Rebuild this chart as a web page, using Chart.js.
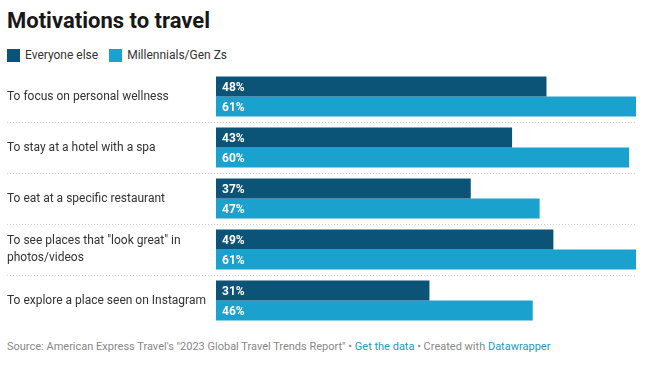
<!DOCTYPE html>
<html>
<head>
<meta charset="utf-8">
<script src="https://cdn.jsdelivr.net/npm/chart.js@4/dist/chart.umd.min.js"></script>
<style>
  body { margin: 0; background: #fff; font-family: Roboto, sans-serif; }
  #wrap { position: relative; width: 661px; height: 367px; }
  h1 { position: absolute; left: 7px; top: 8px; margin: 0; font-size: 22px; font-weight: 700; color: #181818; }
  .legend { position: absolute; top: 48px; left: 7px; font-size: 12px; color: #333; display: flex; }
  .legend span { display: flex; align-items: center; margin-right: 11px; }
  .legend i { display: inline-block; width: 13px; height: 13px; margin-right: 5px; }
  #box { position: absolute; left: 0; top: 70px; width: 661px; height: 258px; }
  .foot { position: absolute; left: 7px; top: 340px; font-size: 11px; color: #888; }
  .foot a { color: #1d9ac2; text-decoration: none; }
</style>
</head>
<body>
<div id="wrap">
  <h1>Motivations to travel</h1>
  <div class="legend">
    <span><i style="background:#0c5378"></i>Everyone else</span>
    <span><i style="background:#1aa1cd"></i>Millennials/Gen Zs</span>
  </div>
  <div id="box"><canvas id="chart"></canvas></div>
  <div class="foot">Source: American Express Travel's "2023 Global Travel Trends Report" • <a>Get the data</a> • Created with <a>Datawrapper</a></div>
</div>
<script>
// 카테고리와 값
const categories = [
  'To focus on personal wellness',
  'To stay at a hotel with a spa',
  'To eat at a specific restaurant',
  ['To see places that "look great" in', 'photos/videos'],
  'To explore a place seen on Instagram'
];
const everyoneElse = [48, 43, 37, 49, 31];
const millennials = [61, 60, 47, 61, 46];

// 막대 안쪽 라벨 + 점선 구분선
const extras = {
  id: 'extras',
  afterDatasetsDraw(chart) {
    const ctx = chart.ctx;
    const y = chart.scales.y;
    const area = chart.chartArea;
    ctx.save();
    ctx.strokeStyle = '#d2d2d2';
    ctx.lineWidth = 1;
    ctx.setLineDash([1, 2]);
    for (let i = 0; i < categories.length - 1; i++) {
      const py = Math.round((y.getPixelForValue(i) + y.getPixelForValue(i + 1)) / 2) + 0.5;
      ctx.beginPath();
      ctx.moveTo(7, py);
      ctx.lineTo(area.right, py);
      ctx.stroke();
    }
    ctx.setLineDash([]);
    ctx.fillStyle = '#fff';
    ctx.font = 'bold 12px Roboto';
    ctx.textBaseline = 'middle';
    chart.data.datasets.forEach((ds, di) => {
      chart.getDatasetMeta(di).data.forEach((bar, i) => {
        ctx.fillText(ds.data[i] + '%', bar.base + 6, bar.y + 1);
      });
    });
    ctx.restore();
  }
};

new Chart(document.getElementById('chart'), {
  type: 'bar',
  data: {
    labels: categories,
    datasets: [{
      label: 'Everyone else',
      data: everyoneElse,
      backgroundColor: '#0c5378'
    }, {
      label: 'Millennials/Gen Zs',
      data: millennials,
      backgroundColor: '#1aa1cd'
    }]
  },
  options: {
    indexAxis: 'y',
    responsive: true,
    maintainAspectRatio: false,
    animation: false,
    layout: { padding: { left: 7, right: 25, top: 1, bottom: 2 } },
    datasets: { bar: { categoryPercentage: 40 / 51, barPercentage: 1 } },
    plugins: { legend: { display: false }, tooltip: { enabled: false } },
    scales: {
      x: { min: 0, max: 61, display: false },
      y: {
        border: { display: false },
        grid: { display: false },
        afterFit(scale) {
          scale.width = 209;
          scale.paddingTop = 0;
          scale.paddingBottom = 0;
        },
        ticks: {
          crossAlign: 'far',
          color: '#333',
          padding: 0,
          font: { family: 'Roboto', size: 12, lineHeight: 1.35 }
        }
      }
    }
  },
  plugins: [extras]
});
</script>
</body>
</html>
